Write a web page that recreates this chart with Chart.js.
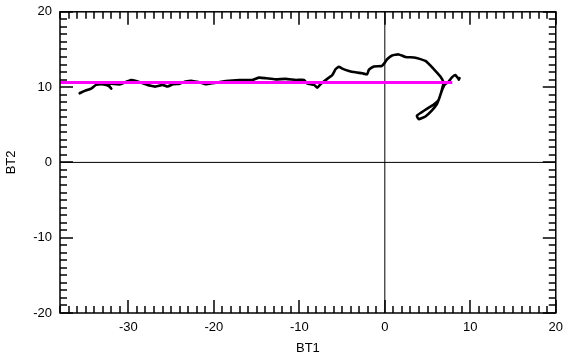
<!DOCTYPE html>
<html>
<head>
<meta charset="utf-8">
<script src="https://cdn.jsdelivr.net/npm/chart.js@4"></script>
<style>
  html, body { margin:0; padding:0; background:#fff; overflow:hidden; }
  #wrap { position:relative; width:566px; height:360px; overflow:hidden; }
  #c { position:absolute; left:0; top:-4px; }
</style>
</head>
<body>
<div id="wrap"><canvas id="c" width="570" height="364"></canvas></div>
<script>
// Data
const trackX = [-35.7,-35.1,-34.3,-33.8,-33.2,-32.6,-32.2,-32.0,-32.4,-31.0,-29.7,-29.1,-28.3,-27.5,-26.8,-26.0,-25.4,-24.8,-24.0,-23.3,-22.5,-21.7,-20.9,-20.2,-19.4,-18.6,-17.0,-15.5,-14.7,-13.9,-12.8,-11.6,-10.4,-9.45,-9.1,-8.28,-7.90,-7.50,-6.92,-6.15,-5.75,-5.37,-4.98,-4.20,-3.42,-2.65,-2.07,-1.87,-1.28,-0.35,0.0,0.27,0.85,1.63,2.42,3.58,4.75,5.72,6.50,6.88,6.77,6.62,6.50,6.30,6.10,5.52,4.75,3.97,3.75,4.75,5.72,6.30,6.50,6.70,7.0,7.47,7.85,8.25,8.55,8.75,8.65];
const trackY = [9.18,9.50,9.84,10.29,10.37,10.29,10.07,9.80,10.46,10.37,10.95,10.82,10.50,10.20,10.07,10.29,10.07,10.37,10.46,10.73,10.82,10.64,10.37,10.50,10.64,10.82,10.95,10.95,11.26,11.17,11.03,11.09,10.95,10.95,10.50,10.29,9.93,10.40,10.95,11.60,12.40,12.70,12.45,12.15,11.96,11.83,11.70,12.30,12.75,12.80,13.25,13.70,14.20,14.34,14.00,13.91,13.47,12.40,11.40,10.60,10.07,9.40,8.97,8.30,7.75,6.90,6.10,5.75,6.20,6.99,7.68,8.30,8.97,9.63,10.33,10.73,11.30,11.60,11.20,11.20,11.00];
const refX = [-38, 7.9];
const refY = [10.6, 10.6];
const xTicks = [-30, -20, -10, 0, 10, 20];
const yTicks = [-20, -10, 0, 10, 20];
const xLim = [-38, 20];
const yLim = [-20, 20];

const pts = (xs, ys) => xs.map((x, i) => ({ x, y: ys[i] }));
const FONT = '"Liberation Sans", Arial, Helvetica, sans-serif';

// inward minor/major ticks on all four sides + box
const framePlugin = {
  id: 'frame',
  afterDraw(chart) {
    const ctx = chart.ctx, a = chart.chartArea;
    const sx = chart.scales.x, sy = chart.scales.y;
    ctx.save();
    ctx.strokeStyle = '#000000';
    ctx.lineWidth = 1.5;
    for (let i = 0; i <= xLim[1] - xLim[0]; i++) {
      const v = xLim[0] + i;
      const p = Math.round(sx.getPixelForValue(v));
      const len = (v % 10 === 0) ? 13 : 7;
      ctx.beginPath(); ctx.moveTo(p, a.bottom); ctx.lineTo(p, a.bottom - len); ctx.stroke();
      ctx.beginPath(); ctx.moveTo(p, a.top); ctx.lineTo(p, a.top + len); ctx.stroke();
    }
    for (let i = 0; i <= yLim[1] - yLim[0]; i++) {
      const v = yLim[0] + i;
      const p = Math.round(sy.getPixelForValue(v));
      const len = (v % 10 === 0) ? 13 : 7;
      ctx.beginPath(); ctx.moveTo(a.left, p); ctx.lineTo(a.left + len, p); ctx.stroke();
      ctx.beginPath(); ctx.moveTo(a.right, p); ctx.lineTo(a.right - len, p); ctx.stroke();
    }
    ctx.strokeRect(a.left, a.top, a.right - a.left, a.bottom - a.top);
    ctx.restore();
  },
  beforeDatasetsDraw(chart) {
    const ctx = chart.ctx, a = chart.chartArea;
    const x0 = chart.scales.x.getPixelForValue(0), y0 = chart.scales.y.getPixelForValue(0);
    ctx.save();
    ctx.strokeStyle = '#000';
    ctx.lineWidth = 1;
    ctx.beginPath();
    ctx.moveTo(x0, a.top); ctx.lineTo(x0, a.bottom);
    ctx.moveTo(a.left, y0); ctx.lineTo(a.right, y0);
    ctx.stroke();
    ctx.restore();
  }
};

new Chart(document.getElementById('c'), {
  type: 'scatter',
  data: {
    datasets: [
      { data: pts(refX, refY), showLine: true, borderColor: '#ff00ff', borderWidth: 3, pointRadius: 0 },
      { data: pts(trackX, trackY), showLine: true, borderColor: '#000', borderWidth: 2.6, pointRadius: 0,
        tension: 0.15, borderJoinStyle: 'round', borderCapStyle: 'round' }
    ]
  },
  options: {
    responsive: false,
    animation: false,
    layout: { padding: { top: 7, right: 6, left: 0, bottom: 0 } },
    plugins: { legend: { display: false }, tooltip: { enabled: false } },
    scales: {
      x: {
        type: 'linear', min: xLim[0], max: xLim[1],
        afterBuildTicks: (s) => { s.ticks = xTicks.map(v => ({ value: v })); },
        afterFit: (s) => { s.height = 47; },
        grid: { display: false, drawTicks: false },
        border: { display: false },
        ticks: { color: '#000', font: { family: FONT, size: 13 }, padding: 7, maxRotation: 0 },
        title: { display: true, text: 'BT1', color: '#000', font: { family: FONT, size: 13 }, padding: { top: 2 } }
      },
      y: {
        type: 'linear', min: yLim[0], max: yLim[1],
        afterBuildTicks: (s) => { s.ticks = yTicks.map(v => ({ value: v })); },
        afterFit: (s) => { s.width = 60; },
        grid: { display: false, drawTicks: false },
        border: { display: false },
        ticks: { color: '#000', font: { family: FONT, size: 13 }, padding: 8 },
        title: { display: true, text: 'BT2', color: '#000', font: { family: FONT, size: 13 }, padding: { bottom: 0 } }
      }
    }
  },
  plugins: [framePlugin]
});
</script>
</body>
</html>
